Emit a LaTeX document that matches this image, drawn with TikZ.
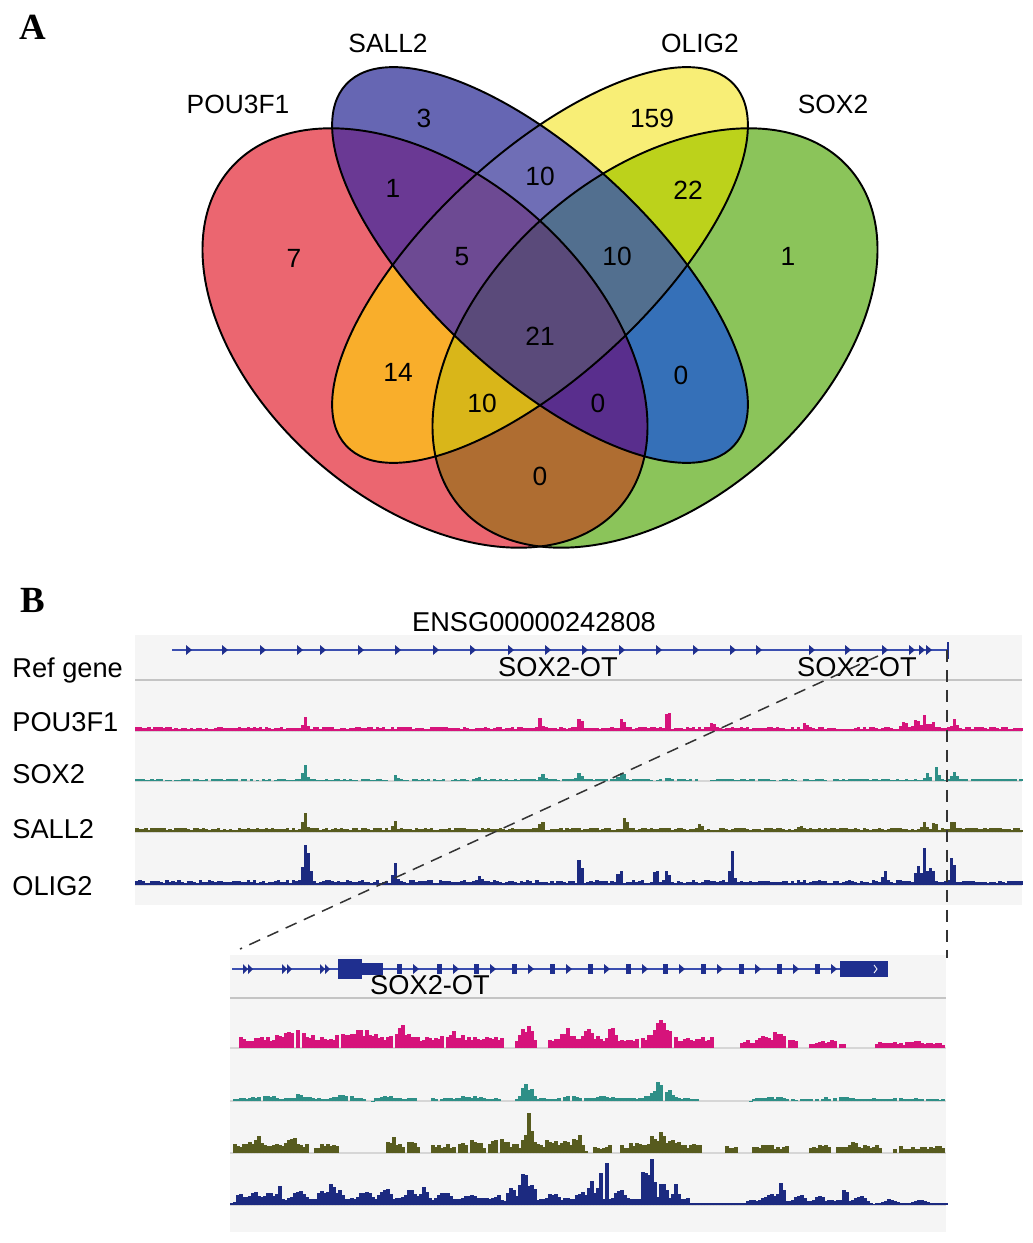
\documentclass[tikz,border=0pt]{standalone}
\usepackage{fontspec}
\setmainfont{Liberation Sans}
\newfontfamily\panelfont{Liberation Serif}
\usetikzlibrary{positioning}

% venn region colours
\definecolor{vP}{HTML}{EB6670}
\definecolor{vSA}{HTML}{6666B3}
\definecolor{vO}{HTML}{F8EE76}
\definecolor{vSX}{HTML}{8BC45A}
\definecolor{vPSA}{HTML}{6A3994}
\definecolor{vSAO}{HTML}{6F6EB6}
\definecolor{vOSX}{HTML}{BCD21B}
\definecolor{vPO}{HTML}{F9AE2B}
\definecolor{vSASX}{HTML}{3570B8}
\definecolor{vPSX}{HTML}{AF6D31}
\definecolor{vPSAO}{HTML}{6D4A93}
\definecolor{vSAOSX}{HTML}{526F8F}
\definecolor{vPOSX}{HTML}{D9B619}
\definecolor{vPSASX}{HTML}{592E8D}
\definecolor{vall}{HTML}{5A4A7A}
% browser colours
\definecolor{panelbg}{HTML}{F5F5F5}
\definecolor{sepgray}{HTML}{C4C4C4}
\definecolor{geneblue}{HTML}{3B4FB0}
\definecolor{genedark}{HTML}{1F2F8F}
\definecolor{trkP}{HTML}{D6137B}
\definecolor{trkSX}{HTML}{2E8F87}
\definecolor{trkSA}{HTML}{575B1E}
\definecolor{trkO}{HTML}{1C2A80}

\tikzstyle{setlabel} = [font=\fontsize{15}{18}\selectfont, inner sep=0pt]
\tikzstyle{count} = [font=\fontsize{15}{18}\selectfont, inner sep=0pt]
\tikzstyle{panel} = [font=\panelfont\bfseries\fontsize{21}{24}\selectfont, inner sep=0pt]
\tikzstyle{trackname} = [font=\fontsize{15.5}{18}\selectfont, anchor=base west, inner sep=0pt]
\tikzstyle{genename} = [font=\fontsize{15.5}{18}\selectfont, inner sep=0pt]
\tikzstyle{outline} = [draw=black, line width=1.1pt]
\tikzstyle{sigbar} = [ycomb, line width=0.064cm]
\tikzstyle{baseln} = [sepgray!70, line width=0.03cm]
\tikzstyle{zoomline} = [draw=black!80, line width=0.03cm, dash pattern=on 0.24cm off 0.16cm]

\def\elP{(425,338) circle [x radius=258, y radius=164, rotate=-41]}
\def\elSA{(540,265) circle [x radius=265, y radius=110, rotate=-43]}
\def\elO{(540,265) circle [x radius=265, y radius=110, rotate=43]}
\def\elSX{(655,338) circle [x radius=258, y radius=164, rotate=41]}
\def\vennbox{(150,20) rectangle (930,570)}
\newcommand\setclip[2]{\ifnum#1=1 \clip #2;\else\clip \vennbox #2;\fi}

\begin{document}
\begin{tikzpicture}[x=0.02cm, y=-0.02cm,
  declare function={pk(\x,\c,\h,\w)=\h*max(0,1-abs(\x-\c)/\w);
    bx(\x,\a,\b,\h)=\h*(\x>\a)*(\x<\b);
    upP(\x)=pk(\x,305,11,4)+pk(\x,540,9,4)+pk(\x,580,12,4)+pk(\x,622,11,4)+pk(\x,668,22,4)+pk(\x,713,7,4)+pk(\x,806,6,4)+pk(\x,905,6,6)+pk(\x,917,10,5)+pk(\x,925,13,4)+pk(\x,933,9,4)+pk(\x,955,10,4);
    upS(\x)=pk(\x,305,16,4)+pk(\x,395,5,4)+pk(\x,478,3,4)+pk(\x,542,6,4)+pk(\x,580,7,5)+pk(\x,622,8,5)+pk(\x,668,3,4)+pk(\x,928,6,4)+pk(\x,937,12,4)+pk(\x,955,8,5);
    upA(\x)=pk(\x,305,18,4)+pk(\x,395,8,4)+pk(\x,542,9,4)+pk(\x,625,14,4)+pk(\x,700,6,4)+pk(\x,800,5,4)+pk(\x,925,7,4)+pk(\x,935,8,4)+pk(\x,953,11,4);
    upO(\x)=pk(\x,305,38,4)+pk(\x,309,26,4)+pk(\x,395,20,4)+pk(\x,480,7,4)+pk(\x,580,27,4)+pk(\x,620,16,4)+pk(\x,656,15,4)+pk(\x,667,12,4)+pk(\x,732,32,4)+pk(\x,885,14,4)+pk(\x,918,18,4)+pk(\x,925,34,4)+pk(\x,932,20,4)+pk(\x,953,32,4);
    loP(\x)=bx(\x,238,504,8)+bx(\x,516,537,8)+bx(\x,547,715,8)+bx(\x,741,798,6)+bx(\x,808,850,4)+bx(\x,874,945,4)+pk(\x,300,5,30)+pk(\x,360,6,30)+pk(\x,405,9,15)+pk(\x,455,4,20)+pk(\x,527,10,10)+pk(\x,568,6,12)+pk(\x,590,7,10)+pk(\x,613,16,6)+pk(\x,660,15,14)+pk(\x,775,5,22)+pk(\x,830,3,15)+pk(\x,915,2,12);
    loS(\x)=bx(\x,232,366,3)+bx(\x,373,418,3)+bx(\x,430,503,3)+bx(\x,515,700,3)+bx(\x,752,946,2.5)+pk(\x,265,3,15)+pk(\x,300,4,14)+pk(\x,345,3,15)+pk(\x,385,3,15)+pk(\x,470,2,15)+pk(\x,527,19,10)+pk(\x,570,3,10)+pk(\x,605,3,12)+pk(\x,661,17,16)+pk(\x,770,2,20)+pk(\x,840,2,20);
    loA(\x)=bx(\x,232,310,7)+bx(\x,315,338,7)+bx(\x,386,419,7)+bx(\x,431,585,7)+bx(\x,594,613,6)+bx(\x,620,703,7)+bx(\x,725,739,6)+bx(\x,751,789,6)+bx(\x,808,831,6)+bx(\x,836,883,6)+bx(\x,893,945,5)+pk(\x,256,8,8)+pk(\x,293,5,10)+pk(\x,393,6,8)+pk(\x,413,5,6)+pk(\x,470,3,15)+pk(\x,500,4,12)+pk(\x,529,24,9)+pk(\x,555,6,15)+pk(\x,578,7,10)+pk(\x,660,9,22)+pk(\x,852,8,6);
    loO(\x)=2+bx(\x,236,500,5)+bx(\x,505,690,5)+bx(\x,745,870,3)+pk(\x,240,5,8)+pk(\x,255,9,10)+pk(\x,270,10,8)+pk(\x,279,20,3)+pk(\x,300,10,10)+pk(\x,322,12,6)+pk(\x,332,16,6)+pk(\x,340,10,6)+pk(\x,365,10,10)+pk(\x,385,13,8)+pk(\x,410,9,10)+pk(\x,425,12,6)+pk(\x,445,9,10)+pk(\x,470,6,10)+pk(\x,500,5,10)+pk(\x,512,12,6)+pk(\x,524,40,6)+pk(\x,533,20,5)+pk(\x,553,6,8)+pk(\x,582,8,8)+pk(\x,592,22,5)+pk(\x,600,36,3)+pk(\x,607,36,3)+pk(\x,620,10,8)+pk(\x,645,42,5)+pk(\x,652,38,5)+pk(\x,663,22,6)+pk(\x,676,18,5)+pk(\x,770,8,12)+pk(\x,782,20,5)+pk(\x,800,7,8)+pk(\x,820,6,6)+pk(\x,845,18,4)+pk(\x,860,5,8)+pk(\x,890,5,10)+pk(\x,920,4,12);}]
\fill[white] (0,0) rectangle (1033,1243);
\useasboundingbox (0,0) rectangle (1033,1243);

% A: venn
\foreach \a/\b/\c/\d/\col in {1/0/0/0/vP, 0/1/0/0/vSA, 0/0/1/0/vO, 0/0/0/1/vSX,
  1/1/0/0/vPSA, 0/1/1/0/vSAO, 0/0/1/1/vOSX, 1/0/1/0/vPO, 0/1/0/1/vSASX, 1/0/0/1/vPSX,
  1/1/1/0/vPSAO, 0/1/1/1/vSAOSX, 1/0/1/1/vPOSX, 1/1/0/1/vPSASX, 1/1/1/1/vall}
{
  \begin{scope}[even odd rule]
    \setclip{\a}{\elP}\setclip{\b}{\elSA}\setclip{\c}{\elO}\setclip{\d}{\elSX}
    \fill[\col] \vennbox;
  \end{scope}
}
\draw[outline] \elP;
\draw[outline] \elSA;
\draw[outline] \elO;
\draw[outline] \elSX;

\node[panel] (panelA) at (33,27) {A};
\node[setlabel] (lblP) at (238,104) {POU3F1};
\node[setlabel] (lblSA) at (388,43) {SALL2};
\node[setlabel] (lblO) at (700,43) {OLIG2};
\node[setlabel] (lblSX) at (833,104) {SOX2};

\foreach \n/\px/\py/\t in {p/294/258/7, sa/424/118/3, o/652/118/159, sx/788/256/1,
  psa/393/188/1, sao/540/176/10, osx/688/190/22, psao/462/257/5, saosx/617/256/10,
  all/540/336/21, po/398/372/14, sasx/681/375/0, posx/482/403/10, psasx/598/403/0, psx/540/476/0}
  \node[count] (c\n) at (\px,\py) {\t};

% B: browser view
\node[panel] (panelB) at (33,600) {B};
\fill[panelbg] (135,635) rectangle (1022,905);
\draw[sepgray, line width=0.045cm] (135,680) -- (1022,680);
\foreach \y in {731,781,832,885}
  \draw[baseln] (135,\y) -- (1022,\y);

\node[trackname] (refgene) at (12,677) {Ref gene};
\node[trackname] (trkPOU) at (12,731) {POU3F1};
\node[trackname] (trkSOX) at (12,783) {SOX2};
\node[trackname] (trkSALL) at (12,838) {SALL2};
\node[trackname] (trkOLIG) at (12,895) {OLIG2};

\draw[geneblue, line width=0.04cm] (172,650) -- (948,650);
\draw[genedark, line width=0.04cm] (948,642) -- (948,659);
\foreach \g in {189,225,263,300,323,361,398,436,473,511,548,585,622,659,696,733,759,812,848,885,912,922,929}
  \fill[genedark] (\g-3,645) -- (\g+3,650) -- (\g-3,655) -- cycle;
\node[genename] (ensg) at (534,622) {ENSG00000242808};
\node[genename] (sotA) at (558,667) {SOX2-OT};
\node[genename] (sotB) at (857,667) {SOX2-OT};

\pgfmathsetseed{11}
\begin{scope}[shift={(0,731)}]
  \draw[trkP, sigbar] plot[domain=137:1021, samples=295] (\x,{-(2+2.5*rnd+upP(\x))});
\end{scope}
\begin{scope}[shift={(0,781)}]
  \draw[trkSX, sigbar] plot[domain=137:1021, samples=295] (\x,{-(rnd>0.12)*(1+1.5*rnd+upS(\x))});
\end{scope}
\begin{scope}[shift={(0,832)}]
  \draw[trkSA, sigbar] plot[domain=137:1021, samples=295] (\x,{-(2+2.5*rnd+upA(\x))});
\end{scope}
\begin{scope}[shift={(0,885)}]
  \draw[trkO, sigbar] plot[domain=137:1021, samples=295] (\x,{-(2+3*rnd+upO(\x))});
\end{scope}

% zoomed region
\fill[panelbg] (230,955) rectangle (946,1232);
\draw[sepgray, line width=0.055cm] (230,998) -- (946,998);
\foreach \y in {1048,1101,1153,1205}
  \draw[baseln] (230,\y) -- (946,\y);

\draw[geneblue, line width=0.04cm] (232,969) -- (888,969);
\foreach \g in {248,287,325} {
  \fill[genedark] (\g-5,964) -- (\g,969) -- (\g-5,974) -- cycle;
  \fill[genedark] (\g,964) -- (\g+5,969) -- (\g,974) -- cycle;
}
\foreach \g in {399,439,476,514,552,590,628,665,703,741,779,817} {
  \fill[genedark] (\g-2,964) rectangle (\g+3,974);
  \fill[genedark] (\g+14,964) -- (\g+20,969) -- (\g+14,974) -- cycle;
}
\fill[genedark] (338,959) rectangle (362,979);
\fill[genedark] (362,963) rectangle (383,975);
\fill[genedark] (840,961) rectangle (888,977);
\draw[white, line width=0.5pt] (874,965) -- (877,969) -- (874,973);
\node[genename] (sotzoom) at (430,985) {SOX2-OT};

\pgfmathsetseed{7}
\begin{scope}[shift={(0,1048)}]
  \draw[trkP, sigbar] plot[domain=238:946, samples=237] (\x,{-1.45*(rnd>0.05)*(0.55+0.45*rnd)*loP(\x)});
\end{scope}
\begin{scope}[shift={(0,1101)}]
  \draw[trkSX, sigbar] plot[domain=232:946, samples=239] (\x,{-1.15*(rnd>0.08)*(0.5+0.5*rnd)*loS(\x)});
\end{scope}
\begin{scope}[shift={(0,1153)}]
  \draw[trkSA, sigbar] plot[domain=232:946, samples=239] (\x,{-1.4*(rnd>0.05)*(0.5+0.5*rnd)*loA(\x)});
\end{scope}
\begin{scope}[shift={(0,1205)}]
  \draw[trkO, sigbar] plot[domain=232:946, samples=239] (\x,{-(0.75+0.3*rnd)*loO(\x)});
\end{scope}

\coordinate (geneend) at (947,650);
\coordinate (zoomright) at (947,958);
\coordinate (labelcut) at (878,656);
\coordinate (zoomleft) at (240,949);
\draw[zoomline] (geneend) -- (zoomright);
\draw[zoomline] (labelcut) -- (zoomleft);
\end{tikzpicture}
\end{document}
